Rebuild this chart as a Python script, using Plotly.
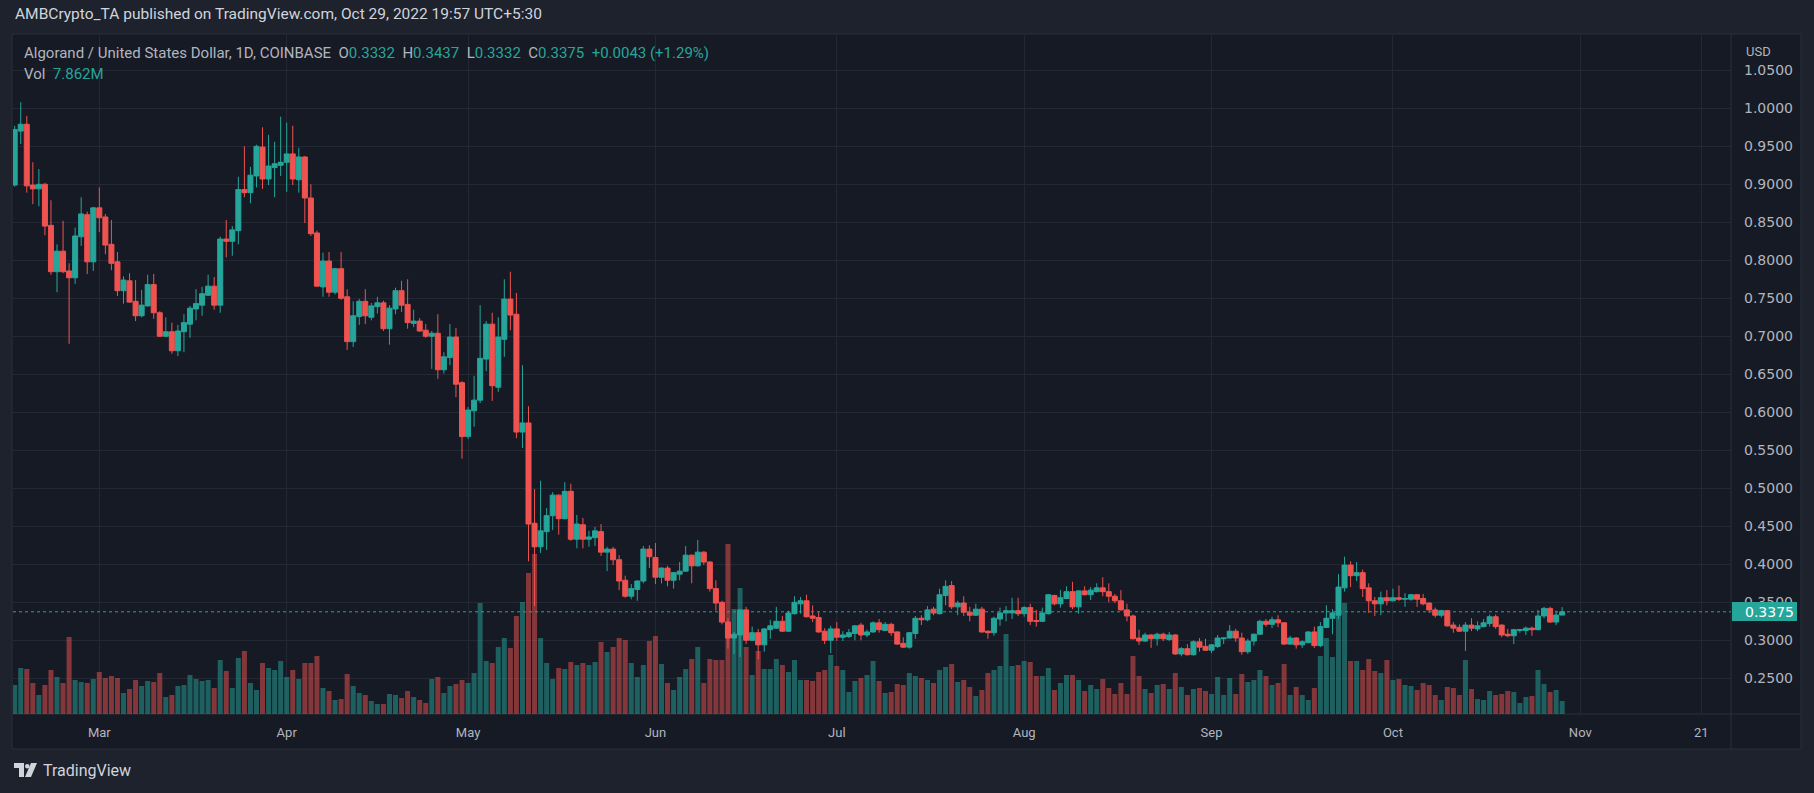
import plotly.graph_objects as go
import pandas as pd

# ---------------- data ----------------
dates = pd.date_range("2022-02-15", "2022-10-29", freq="D")

open_ = [
    0.899,0.970,0.979,0.899,0.894,0.900,0.846,0.785,0.812,0.786,0.777,0.831,0.860,0.798,
    0.869,0.857,0.821,0.798,0.760,0.773,0.746,0.727,0.740,0.768,0.731,0.700,0.706,0.681,0.706,0.716,0.736,0.741,0.754,0.766,0.741,0.828,0.825,0.839,0.893,0.889,0.911,0.949,0.907,0.922,0.925,
    0.929,0.940,0.906,0.936,0.882,0.836,0.765,0.799,0.758,0.789,0.752,0.693,0.726,0.746,0.725,0.739,0.744,0.710,0.736,0.760,0.742,0.717,0.720,0.708,0.700,0.704,0.656,0.672,0.699,0.639,
    0.568,0.602,0.616,0.670,0.716,0.633,0.696,0.749,0.729,0.574,0.586,0.454,0.423,0.443,0.464,0.491,0.460,0.496,0.433,0.452,0.433,0.435,0.443,0.416,0.420,0.406,0.379,0.358,0.367,0.378,0.420,
    0.409,0.383,0.395,0.379,0.387,0.391,0.412,0.398,0.416,0.403,0.368,0.350,0.324,0.303,0.307,0.340,0.300,0.310,0.294,0.314,0.316,0.325,0.312,0.335,0.348,0.352,0.332,0.330,0.312,0.300,
    0.315,0.304,0.305,0.309,0.320,0.307,0.311,0.323,0.313,0.321,0.311,0.296,0.291,0.309,0.329,0.327,0.341,0.335,0.359,0.372,0.344,0.349,0.337,0.333,0.341,0.312,0.310,0.328,0.336,0.336,0.339,
    0.335,0.343,0.326,0.325,0.335,0.359,0.348,0.355,0.364,0.344,0.365,0.360,0.364,0.369,0.364,0.358,0.352,0.340,0.332,0.303,0.299,0.307,0.302,0.308,0.301,0.307,0.282,0.289,0.281,0.298,0.292,
    0.287,0.292,0.302,0.303,0.312,0.303,0.285,0.299,0.308,0.325,0.321,0.327,0.323,0.295,0.303,0.294,0.297,0.311,0.293,0.317,0.329,0.333,0.369,0.399,0.385,0.389,0.369,0.352,0.348,0.356,
    0.352,0.356,0.354,0.354,0.360,0.355,0.349,0.340,0.333,0.339,0.320,0.317,0.312,0.320,0.315,0.318,0.322,0.331,0.320,0.308,0.306,0.313,0.313,0.316,0.314,0.332,0.342,0.324,0.3332,
]
high = [
    0.977,1.008,0.990,0.929,0.920,0.902,0.879,0.821,0.852,0.796,0.843,0.883,0.864,0.870,
    0.896,0.861,0.853,0.811,0.779,0.783,0.774,0.761,0.781,0.782,0.733,0.725,0.718,0.715,0.729,0.740,0.762,0.765,0.781,0.778,0.831,0.853,0.845,0.910,0.950,0.923,0.952,0.975,0.965,0.956,0.989,
    0.981,0.977,0.948,0.937,0.900,0.839,0.810,0.811,0.790,0.811,0.762,0.746,0.749,0.762,0.744,0.752,0.747,0.741,0.764,0.773,0.775,0.735,0.724,0.716,0.707,0.729,0.679,0.716,0.711,0.641,
    0.607,0.648,0.741,0.720,0.731,0.725,0.775,0.785,0.757,0.662,0.608,0.499,0.510,0.474,0.495,0.492,0.508,0.506,0.465,0.461,0.444,0.449,0.453,0.423,0.423,0.412,0.385,0.374,0.379,0.424,0.425,
    0.428,0.396,0.398,0.390,0.403,0.424,0.413,0.432,0.417,0.404,0.379,0.352,0.329,0.311,0.341,0.344,0.318,0.315,0.316,0.327,0.344,0.332,0.339,0.358,0.357,0.360,0.346,0.337,0.316,0.319,
    0.324,0.312,0.315,0.320,0.323,0.314,0.325,0.328,0.324,0.323,0.312,0.304,0.311,0.332,0.333,0.345,0.344,0.368,0.379,0.378,0.352,0.358,0.344,0.348,0.344,0.313,0.331,0.343,0.345,0.356,0.356,
    0.345,0.348,0.340,0.343,0.361,0.360,0.366,0.371,0.377,0.366,0.371,0.370,0.375,0.383,0.375,0.361,0.366,0.348,0.334,0.314,0.310,0.308,0.310,0.310,0.311,0.308,0.291,0.295,0.300,0.303,0.302,
    0.295,0.307,0.304,0.320,0.315,0.310,0.302,0.309,0.327,0.328,0.331,0.333,0.324,0.306,0.304,0.300,0.312,0.318,0.324,0.346,0.341,0.387,0.410,0.404,0.403,0.393,0.375,0.357,0.364,0.366,
    0.368,0.372,0.362,0.361,0.361,0.361,0.350,0.343,0.340,0.340,0.324,0.321,0.324,0.329,0.325,0.328,0.334,0.334,0.321,0.315,0.315,0.315,0.318,0.318,0.340,0.344,0.344,0.339,0.3437,
]
low = [
    0.897,0.953,0.889,0.874,0.871,0.833,0.781,0.758,0.783,0.690,0.769,0.819,0.782,0.786,
    0.837,0.808,0.787,0.753,0.743,0.744,0.720,0.725,0.739,0.723,0.699,0.699,0.677,0.674,0.679,0.698,0.721,0.727,0.753,0.735,0.731,0.804,0.806,0.821,0.883,0.875,0.896,0.894,0.899,0.883,0.911,
    0.890,0.899,0.889,0.849,0.832,0.765,0.752,0.752,0.755,0.748,0.682,0.686,0.715,0.716,0.721,0.730,0.707,0.689,0.729,0.732,0.710,0.712,0.706,0.698,0.657,0.644,0.651,0.662,0.620,0.539,
    0.565,0.581,0.612,0.654,0.615,0.627,0.673,0.708,0.566,0.553,0.404,0.345,0.415,0.419,0.445,0.439,0.459,0.431,0.421,0.421,0.423,0.424,0.411,0.391,0.399,0.366,0.356,0.354,0.352,0.375,0.395,
    0.374,0.375,0.371,0.368,0.379,0.390,0.375,0.397,0.399,0.364,0.339,0.321,0.289,0.282,0.278,0.295,0.299,0.275,0.285,0.302,0.315,0.311,0.311,0.334,0.335,0.330,0.324,0.310,0.295,0.283,
    0.299,0.299,0.303,0.300,0.300,0.304,0.310,0.310,0.312,0.306,0.294,0.290,0.289,0.302,0.320,0.325,0.333,0.334,0.346,0.341,0.333,0.332,0.325,0.332,0.310,0.302,0.306,0.319,0.325,0.328,0.332,
    0.331,0.320,0.318,0.324,0.334,0.346,0.343,0.354,0.341,0.335,0.359,0.353,0.363,0.358,0.350,0.349,0.339,0.325,0.301,0.294,0.298,0.290,0.293,0.299,0.299,0.281,0.279,0.280,0.280,0.285,0.286,
    0.283,0.290,0.295,0.302,0.298,0.281,0.282,0.293,0.307,0.318,0.316,0.317,0.294,0.294,0.289,0.290,0.296,0.290,0.291,0.316,0.308,0.328,0.364,0.370,0.378,0.357,0.336,0.332,0.333,0.346,
    0.351,0.352,0.344,0.352,0.344,0.346,0.336,0.330,0.330,0.318,0.310,0.311,0.286,0.312,0.312,0.317,0.318,0.315,0.304,0.304,0.295,0.310,0.307,0.306,0.313,0.329,0.323,0.320,0.3332,
]
close = [
    0.972,0.979,0.898,0.894,0.900,0.845,0.785,0.812,0.785,0.777,0.832,0.861,0.798,0.869,
    0.856,0.820,0.796,0.760,0.774,0.745,0.727,0.741,0.768,0.731,0.700,0.706,0.681,0.707,0.718,0.737,0.743,0.756,0.766,0.741,0.828,0.825,0.840,0.893,0.889,0.912,0.950,0.907,0.924,0.927,0.929,
    0.940,0.907,0.936,0.882,0.835,0.766,0.799,0.758,0.789,0.750,0.693,0.727,0.746,0.727,0.740,0.744,0.710,0.737,0.760,0.741,0.718,0.720,0.707,0.700,0.704,0.656,0.673,0.699,0.637,0.568,
    0.603,0.616,0.671,0.716,0.635,0.699,0.749,0.728,0.574,0.586,0.453,0.423,0.444,0.464,0.491,0.460,0.496,0.433,0.453,0.433,0.436,0.444,0.416,0.420,0.406,0.378,0.358,0.368,0.378,0.420,0.410,
    0.383,0.395,0.379,0.389,0.391,0.412,0.398,0.416,0.403,0.368,0.349,0.324,0.303,0.308,0.340,0.300,0.310,0.294,0.315,0.319,0.325,0.312,0.336,0.350,0.352,0.331,0.329,0.311,0.300,0.315,
    0.304,0.307,0.310,0.319,0.307,0.311,0.323,0.314,0.321,0.310,0.295,0.291,0.310,0.329,0.327,0.340,0.336,0.360,0.371,0.344,0.349,0.337,0.333,0.341,0.311,0.310,0.329,0.336,0.339,0.339,0.335,
    0.343,0.325,0.325,0.336,0.360,0.348,0.356,0.364,0.344,0.365,0.360,0.366,0.369,0.364,0.358,0.352,0.340,0.332,0.302,0.299,0.307,0.302,0.308,0.302,0.307,0.282,0.289,0.281,0.298,0.291,0.287,
    0.294,0.303,0.303,0.312,0.303,0.285,0.299,0.308,0.325,0.321,0.327,0.323,0.295,0.303,0.294,0.298,0.311,0.293,0.318,0.329,0.336,0.370,0.399,0.385,0.389,0.368,0.352,0.348,0.356,0.352,
    0.356,0.354,0.355,0.360,0.354,0.348,0.340,0.333,0.339,0.319,0.316,0.312,0.320,0.316,0.319,0.323,0.331,0.318,0.307,0.306,0.314,0.314,0.316,0.314,0.332,0.342,0.324,0.3332,0.3375,
]
# volume, in relative units (last bar = 7.862M)
volume = [
    29,46,45,31,19,29,44,37,31,77,34,32,31,35,
    42,36,38,36,21,25,34,28,33,32,41,17,19,28,29,39,35,33,34,26,54,43,26,56,63,31,24,51,46,44,53,
    37,44,35,51,51,58,26,23,14,15,40,28,21,19,13,10,10,20,19,16,23,17,14,11,35,37,21,28,30,34,
    31,41,111,53,51,67,76,66,98,112,141,160,76,51,35,46,45,52,49,51,49,52,72,62,67,76,74,51,37,49,73,
    78,50,31,24,37,45,55,67,31,55,54,54,170,105,126,67,39,63,45,45,55,49,42,54,34,34,33,42,44,59,
    48,44,22,33,36,39,53,33,21,22,30,29,41,38,36,34,31,44,47,50,32,34,27,18,24,41,44,48,80,48,49,
    53,52,38,38,46,24,31,39,39,34,23,29,25,35,26,20,31,20,58,38,25,21,29,30,25,41,27,19,25,26,23,
    20,37,19,36,20,40,32,34,44,38,29,31,50,19,27,19,14,26,58,76,57,100,111,53,53,44,55,43,41,54,
    34,35,29,28,24,31,29,19,14,27,26,19,54,25,15,14,23,19,20,23,22,11,17,18,44,30,22,24,13,
]
vol_last_label = "7.862M"

tick_prices = [0.25, 0.30, 0.35, 0.40, 0.45, 0.50, 0.55, 0.60, 0.65, 0.70, 0.75, 0.80,
               0.85, 0.90, 0.95, 1.00, 1.05]
x_tick_dates = ["2022-03-01", "2022-04-01", "2022-05-01", "2022-06-01", "2022-07-01",
                "2022-08-01", "2022-09-01", "2022-10-01", "2022-11-01", "2022-11-21"]
x_tick_text = ["Mar", "Apr", "May", "Jun", "Jul", "Aug", "Sep", "Oct", "Nov", "21"]

# ---------------- style / layout ----------------
W, H = 1814, 793
PL, PR, PT, PB = 13, 1731, 35, 714          # price pane in pixels
UP, DOWN = "#26a69a", "#ef5350"
UP_V, DOWN_V = "rgba(38,166,154,0.5)", "rgba(239,83,80,0.5)"
OUTER_BG, PANE_BG, GRID = "#1e222d", "#161a25", "#242835"
TXT = "#b2b5be"
FONT = "Roboto, 'Liberation Sans', Arial, sans-serif"
AXFONT = "'DejaVu Sans', Verdana, sans-serif"


def fx(px):
    return (px - PL) / (PR - PL)


def fy(py):
    return (PB - py) / (PB - PT)


vol_colors = [UP_V if c >= o else DOWN_V for o, c in zip(open_, close)]

fig = go.Figure()
fig.add_trace(go.Bar(
    x=dates, y=volume, marker=dict(color=vol_colors, line=dict(width=0)),
    yaxis="y2", hoverinfo="skip", showlegend=False,
))
fig.add_trace(go.Candlestick(
    x=dates, open=open_, high=high, low=low, close=close,
    increasing=dict(line=dict(color=UP, width=1), fillcolor=UP),
    decreasing=dict(line=dict(color=DOWN, width=1), fillcolor=DOWN),
    whiskerwidth=0, hoverinfo="skip", showlegend=False, yaxis="y",
))

shapes = [
    dict(type="rect", xref="paper", yref="paper", x0=fx(12), x1=fx(1801), y0=fy(749), y1=fy(34),
         fillcolor=PANE_BG, line=dict(color="#2a2e39", width=1), layer="below"),
    dict(type="line", xref="paper", yref="paper", x0=1, x1=1, y0=fy(749), y1=fy(34),
         line=dict(color="#2a2e39", width=1), layer="below"),
    dict(type="line", xref="paper", yref="paper", x0=fx(12), x1=fx(1801), y0=0, y1=0,
         line=dict(color="#2a2e39", width=1), layer="below"),
    dict(type="line", xref="paper", yref="y", x0=0, x1=1, y0=close[-1], y1=close[-1],
         line=dict(color=UP, width=1, dash="dot"), layer="above"),
    dict(type="rect", xref="paper", yref="paper", x0=fx(1732), x1=fx(1797),
         y0=fy(621), y1=fy(602), fillcolor=UP, line=dict(width=0), layer="above"),
]


def path(points):
    return "M " + " L ".join(f"{fx(x):.5f},{fy(y):.5f}" for x, y in points) + " Z"


shapes += [
    dict(type="path", xref="paper", yref="paper",
         path=path([(14, 763), (24, 763), (24, 777), (19, 777), (19, 768), (14, 768)]),
         fillcolor="#d1d4dc", line=dict(width=0)),
    dict(type="circle", xref="paper", yref="paper", x0=fx(25), x1=fx(29.5), y0=fy(768.5), y1=fy(764),
         fillcolor="#d1d4dc", line=dict(width=0)),
    dict(type="path", xref="paper", yref="paper",
         path=path([(25, 777), (31, 763), (37, 763), (31, 777)]),
         fillcolor="#d1d4dc", line=dict(width=0)),
]

chg = close[-1] - close[-2]
pct = chg / close[-2] * 100
nb = "\u00a0"


def teal(s):
    return f"<span style='color:{UP}'>{s}</span>"


header = (f"Algorand / United States Dollar, 1D, COINBASE{nb*2}"
          f"O{teal(f'{open_[-1]:.4f}')}{nb*2}H{teal(f'{high[-1]:.4f}')}{nb*2}"
          f"L{teal(f'{low[-1]:.4f}')}{nb*2}C{teal(f'{close[-1]:.4f}')}{nb*2}"
          f"{teal(f'{chg:+.4f} ({pct:+.2f}%)')}")

annotations = [
    dict(xref="paper", yref="paper", x=fx(13), y=fy(14), xanchor="left", yanchor="middle",
         text="AMBCrypto_TA published on TradingView.com, Oct 29, 2022 19:57 UTC+5:30",
         showarrow=False, font=dict(family=FONT, size=15.5, color="#d1d4dc")),
    dict(xref="paper", yref="paper", x=fx(22), y=fy(53), xanchor="left", yanchor="middle",
         text=header, showarrow=False, font=dict(family=FONT, size=15, color=TXT)),
    dict(xref="paper", yref="paper", x=fx(22), y=fy(74), xanchor="left", yanchor="middle",
         text=f"Vol{nb*2}{teal(vol_last_label)}", showarrow=False,
         font=dict(family=FONT, size=15, color=TXT)),
    dict(xref="paper", yref="paper", x=fx(1744), y=fy(51), xanchor="left", yanchor="middle",
         text="USD", showarrow=False, font=dict(family=FONT, size=13, color=TXT)),
    dict(xref="paper", yref="paper", x=fx(1743), y=fy(611.5), xanchor="left", yanchor="middle",
         text=f"{close[-1]:.4f}", showarrow=False, font=dict(family=AXFONT, size=14, color="#ffffff")),
    dict(xref="paper", yref="paper", x=fx(41), y=fy(770), xanchor="left", yanchor="middle",
         text="TradingView", showarrow=False, font=dict(family=FONT, size=16, color="#d1d4dc")),
]

plot_h = PB - PT
price_top = 1.0 + (108.3 - PT) / 760.0
price_bot = 1.0 - (PB - 108.3) / 760.0

fig.update_layout(
    width=W, height=H,
    margin=dict(l=PL, r=W - PR, t=PT, b=H - PB, pad=0),
    paper_bgcolor=OUTER_BG, plot_bgcolor="rgba(0,0,0,0)",
    font=dict(family=FONT, color=TXT, size=13),
    showlegend=False, hovermode=False,
    bargap=0.17, boxgap=0.1, boxgroupgap=0.08,
    xaxis=dict(
        type="date", range=["2022-02-14 17:17", "2022-11-25 22:19"],
        rangeslider=dict(visible=False),
        tickvals=x_tick_dates, ticktext=x_tick_text,
        showgrid=True, gridcolor=GRID, gridwidth=1,
        zeroline=False, showline=False, ticks="",
        ticklabelstandoff=9, tickfont=dict(family=FONT, size=13, color=TXT),
        fixedrange=True,
    ),
    yaxis=dict(
        range=[price_bot, price_top], side="right",
        tickvals=tick_prices, ticktext=[f"{v:.4f}" for v in tick_prices],
        showgrid=True, gridcolor=GRID, gridwidth=1,
        zeroline=False, showline=False, ticks="",
        ticklabelstandoff=12, tickfont=dict(family=AXFONT, size=14, color=TXT),
        fixedrange=True,
    ),
    yaxis2=dict(
        overlaying="y", range=[0, plot_h], visible=False, showgrid=False, fixedrange=True,
    ),
    shapes=shapes, annotations=annotations,
)

fig.write_html(
    "out.html",
    config=dict(displayModeBar=False, staticPlot=True),
    post_script="document.body.style.margin='0';document.body.style.padding='0';"
                "document.body.style.background='#1e222d';",
)
